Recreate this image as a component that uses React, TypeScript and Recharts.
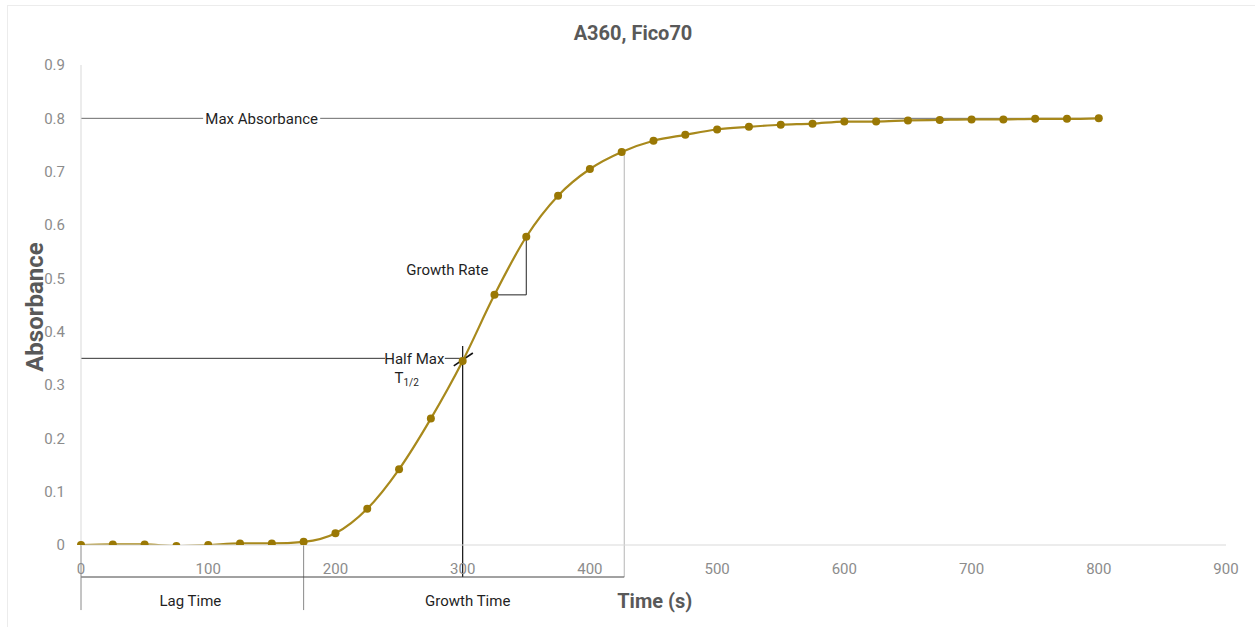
import { LineChart, Line, XAxis, YAxis, ReferenceLine, ReferenceDot } from "recharts"

// A360 kinetics, one reading every 25 s
const TIME = [
  0, 25, 50, 75, 100, 125, 150, 175, 200, 225, 250, 275, 300, 325, 350, 375, 400,
  425, 450, 475, 500, 525, 550, 575, 600, 625, 650, 675, 700, 725, 750, 775, 800,
]
const ABSORBANCE = [
  0.0, 0.001, 0.001, -0.002, 0.0, 0.003, 0.003, 0.006, 0.022, 0.068, 0.142, 0.237, 0.345,
  0.469, 0.578, 0.655, 0.705, 0.737, 0.758, 0.769, 0.779, 0.784, 0.788, 0.79, 0.794,
  0.794, 0.796, 0.797, 0.798, 0.798, 0.799, 0.799, 0.8,
]
const X_TICKS = [0, 100, 200, 300, 400, 500, 600, 700, 800, 900]
const Y_TICKS = [0, 0.1, 0.2, 0.3, 0.4, 0.5, 0.6, 0.7, 0.8, 0.9]

const TITLE = "A360, Fico70"
const X_LABEL = "Time (s)"
const Y_LABEL = "Absorbance"

// annotation anchors (data units)
const MAX_ABS = 0.8
const HALF_MAX = 0.35
const T_HALF = 300
const LAG_END = 175
const GROWTH_END = 427
const BRACKET_Y = -0.06
const BRACKET_BOTTOM = -0.122
const TEXT_Y = -0.105

const LINE_COLOR = "#a8891c"
const DOT_COLOR = "#9a7804"
const TICK_COLOR = "#8c8c8c"
const LABEL_COLOR = "#595959"
const INK = "#1f1f1f"
const FONT = 'Roboto, "Liberation Sans", sans-serif'

type Seg = { x1: number; y1: number; x2: number; y2: number; stroke: string; w: number }

const SEGMENTS: Seg[] = [
  // max absorbance, broken around its label
  { x1: 0, y1: MAX_ABS, x2: 96, y2: MAX_ABS, stroke: "#6b6b6b", w: 1 },
  { x1: 188, y1: MAX_ABS, x2: 800, y2: MAX_ABS, stroke: "#6b6b6b", w: 1 },
  // half max
  { x1: 0, y1: HALF_MAX, x2: 239, y2: HALF_MAX, stroke: "#333", w: 1 },
  { x1: 286, y1: HALF_MAX, x2: T_HALF, y2: HALF_MAX, stroke: "#333", w: 1 },
  { x1: T_HALF, y1: 0.373, x2: T_HALF, y2: BRACKET_Y, stroke: "#111", w: 1.2 },
  { x1: 293, y1: 0.336, x2: 308, y2: 0.36, stroke: "#111", w: 1.6 },
  // growth rate triangle
  { x1: 325, y1: 0.469, x2: 350, y2: 0.469, stroke: "#222", w: 1 },
  { x1: 350, y1: 0.469, x2: 350, y2: 0.578, stroke: "#222", w: 1 },
  // lag / growth time brackets
  { x1: GROWTH_END, y1: 0.737, x2: GROWTH_END, y2: BRACKET_Y, stroke: "#b5b5b5", w: 1 },
  { x1: LAG_END, y1: 0.006, x2: LAG_END, y2: BRACKET_BOTTOM, stroke: "#8a8a8a", w: 1 },
  { x1: 0, y1: BRACKET_Y, x2: GROWTH_END, y2: BRACKET_Y, stroke: "#444", w: 1 },
  { x1: 0, y1: 0, x2: 0, y2: BRACKET_BOTTOM, stroke: "#8a8a8a", w: 1 },
]

const NOTES = [
  { x: 142, y: MAX_ABS, text: "Max Absorbance" },
  { x: 262, y: HALF_MAX, text: "Half Max" },
  { x: 288, y: 0.517, text: "Growth Rate" },
  { x: 86, y: TEXT_Y, text: "Lag Time" },
  { x: 304, y: TEXT_Y, text: "Growth Time" },
]

const data = TIME.map((t, i) => ({ t, a: ABSORBANCE[i] }))

function HalfLabel({ viewBox }: any) {
  const x = viewBox.x + (viewBox.width || 0) / 2
  const y = viewBox.y + (viewBox.height || 0) / 2
  return (
    <text x={x} y={y} textAnchor="middle" dominantBaseline="central" fill={INK} fontFamily={FONT} fontSize={15}>
      T<tspan fontSize={10} dy={4}>1/2</tspan>
    </text>
  )
}

function XTitle({ viewBox }: any) {
  const x = viewBox.x + (viewBox.width || 0) / 2
  const y = viewBox.y + (viewBox.height || 0) / 2
  return (
    <text x={x} y={y} textAnchor="middle" dominantBaseline="central" fill={LABEL_COLOR} fontFamily={FONT} fontWeight="bold" fontSize={20}>
      {X_LABEL}
    </text>
  )
}

function YTitle({ viewBox }: any) {
  const x = viewBox.x + 14
  const y = viewBox.y + viewBox.height / 2 + 2
  return (
    <text
      x={x}
      y={y}
      textAnchor="middle"
      dominantBaseline="central"
      transform={`rotate(-90 ${x} ${y})`}
      fill={LABEL_COLOR}
      fontFamily={FONT}
      fontWeight="bold"
      fontSize={24}
    >
      {Y_LABEL}
    </text>
  )
}

export default function App() {
  return (
    <div style={{ position: "absolute", left: 0, top: 0, width: 1255, height: 627, background: "#fff" }}>
      <div
        style={{
          position: "absolute",
          left: 7,
          top: 5,
          width: 1248,
          height: 622,
          borderTop: "1px solid #ececec",
          borderLeft: "1px solid #ececec",
        }}
      />
      <div
        style={{
          position: "absolute",
          left: 533,
          top: 21,
          width: 200,
          textAlign: "center",
          fontFamily: FONT,
          fontWeight: "bold",
          fontSize: 20,
          color: LABEL_COLOR,
        }}
      >
        {TITLE}
      </div>
      <div style={{ position: "absolute", left: 0, top: 0 }}>
        <LineChart width={1255} height={627} data={data} margin={{ top: 65, right: 29, bottom: 52, left: 21 }}>
          <XAxis
            dataKey="t"
            type="number"
            domain={[0, 900]}
            ticks={X_TICKS}
            interval={0}
            tickLine={false}
            axisLine={{ stroke: "#d9d9d9" }}
            tick={{ fill: TICK_COLOR, fontSize: 15, fontFamily: FONT }}
            tickMargin={12}
            height={30}
          />
          <YAxis
            type="number"
            domain={[0, 0.9]}
            ticks={Y_TICKS}
            interval={0}
            allowDataOverflow
            tickLine={false}
            axisLine={{ stroke: "#d9d9d9" }}
            tick={{ fill: TICK_COLOR, fontSize: 15, fontFamily: FONT }}
            tickMargin={10}
            tickFormatter={(v: number) => String(v)}
            width={60}
            label={<YTitle />}
          />
          {SEGMENTS.map((s, i) => (
            <ReferenceLine
              key={i}
              segment={[{ x: s.x1, y: s.y1 }, { x: s.x2, y: s.y2 }]}
              stroke={s.stroke}
              strokeWidth={s.w}
              ifOverflow="visible"
            />
          ))}
          {NOTES.map((n) => (
            <ReferenceDot
              key={n.text}
              x={n.x}
              y={n.y}
              r={0}
              stroke="none"
              fill="none"
              ifOverflow="visible"
              label={{ value: n.text, position: "center", fill: INK, fontSize: 15, fontFamily: FONT }}
            />
          ))}
          <ReferenceDot x={256} y={0.313} r={0} stroke="none" fill="none" ifOverflow="visible" label={<HalfLabel />} />
          <ReferenceDot x={451} y={TEXT_Y} r={0} stroke="none" fill="none" ifOverflow="visible" label={<XTitle />} />
          <Line
            dataKey="a"
            type="monotone"
            stroke={LINE_COLOR}
            strokeWidth={2.2}
            dot={{ r: 4, fill: DOT_COLOR, stroke: DOT_COLOR, strokeWidth: 0 }}
            isAnimationActive={false}
          />
        </LineChart>
      </div>
    </div>
  )
}
